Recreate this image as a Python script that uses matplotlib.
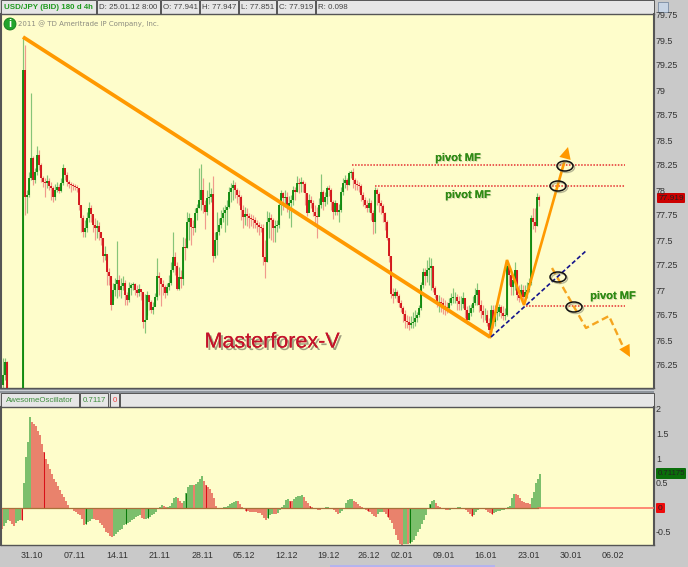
"""USD/JPY 4h price chart with Awesome Oscillator panel and hand-drawn pivot markup."""
import numpy as np
import matplotlib
matplotlib.use("Agg")
import matplotlib.pyplot as plt
import matplotlib.patheffects as pe
from matplotlib.patches import Ellipse, Rectangle, FancyBboxPatch, Circle

plt.rcParams["font.family"] = ["Liberation Sans", "DejaVu Sans"]

nan = float("nan")

# 4h bars, one slot every 2 chart columns starting at column 3
bar_close = [
    76.16, 76.29, 76.03, nan, nan, nan, nan, nan, nan, nan,
    79.21, 77.94, 77.96, 78.13, 78.33, 78.11, 78.19, 78.36, 78.26, 78.13,
    78.09, 78.08, 78.10, 78.05, 78.03, 77.94, 78.01, 78.04, 78.00, 78.08,
    78.23, 78.16, 78.09, 78.07, 78.06, 78.05, 78.04, 78.03, 77.86, 77.73,
    77.59, 77.63, 77.73, 77.83, 77.77, 77.66, 77.63, 77.65, 77.59, 77.53,
    77.35, 77.37, 77.19, 77.15, 76.86, 77.01, 77.07, 77.11, 77.01, 77.05,
    77.08, 76.96, 76.91, 77.03, 77.06, 77.07, 77.01, 76.98, 77.02, 76.99,
    76.69, 76.71, 76.96, 76.89, 76.81, 76.84, 76.94, 77.15, 77.13, 77.07,
    77.04, 76.98, 77.04, 77.08, 77.21, 77.34, 77.25, 77.02, 77.14, 77.12,
    77.44, 77.43, 77.69, 77.73, 77.64, 77.63, 77.78, 77.83, 77.91, 78.01,
    77.86, 77.79, 77.93, 77.94, 77.97, 77.35, 77.51, 77.59, 77.66, 77.73,
    77.78, 77.81, 77.84, 77.99, 78.03, 78.06, 78.01, 77.96, 77.94, 77.81,
    77.74, 77.77, 77.75, 77.73, 77.72, 77.71, 77.68, 77.66, 77.64, 77.63,
    77.34, 77.29, 77.69, 77.73, 77.71, 77.63, 77.65, 77.66, 77.86, 77.98,
    77.93, 77.94, 77.85, 77.88, 77.91, 78.01, 77.99, 78.08, 78.07, 78.09,
    78.07, 77.98, 77.78, 77.91, 77.88, 77.79, 77.75, 77.74, 77.86, 77.99,
    77.89, 77.94, 78.03, 78.01, 77.89, 77.79, 77.88, 77.79, 77.81, 77.99,
    78.08, 78.11, 78.06, 78.18, 78.19, 78.11, 78.07, 78.06, 78.05, 77.96,
    77.91, 77.86, 77.83, 77.88, 77.78, 77.69, 78.01, 77.97, 77.88, 77.85,
    77.78, 77.69, 77.53, 77.35, 76.97, 76.95, 76.99, 76.95, 76.88, 76.83,
    76.77, 76.70, 76.69, 76.66, 76.68, 76.69, 76.73, 76.76, 76.83, 77.06,
    77.19, 77.15, 77.21, 77.23, 77.25, 77.03, 76.96, 76.88, 76.89, 76.88,
    76.85, 76.84, 76.83, 76.88, 76.93, 76.94, 76.94, 76.90, 76.87, 76.87,
    76.93, 76.81, 76.71, 76.78, 76.83, 76.88, 76.96, 77.01, 76.86, 76.80,
    76.76, 76.76, 76.68, 76.61, 76.81, 76.69, 76.78, 76.79, 76.84, 76.78,
    76.75, 76.76, 77.25, 77.16, 77.04, 77.11, 77.21, 76.96, 76.93, 77.01,
    76.94, 76.99, 77.01, 77.08, 77.73, 77.69, 77.65, 77.94, 77.91,
]
bar_high = [
    76.33, 76.33, 76.30, nan, nan, nan, nan, nan, nan, nan,
    79.54, 79.46, 78.01, 78.19, 78.98, 78.35, 78.23, 78.45, 78.41, 78.28,
    78.15, 78.13, 78.16, 78.13, 78.09, 78.05, 78.07, 78.09, 78.07, 78.13,
    78.27, 78.21, 78.19, 78.11, 78.09, 78.08, 78.07, 78.06, 78.03, 77.86,
    77.76, 77.71, 77.79, 77.89, 77.86, 77.76, 77.73, 77.71, 77.69, 77.59,
    77.53, 77.45, 77.36, 77.23, 77.15, 77.08, 77.13, 77.50, 77.16, 77.13,
    77.15, 77.11, 76.99, 77.09, 77.08, 77.09, 77.08, 77.06, 77.07, 77.01,
    76.99, 76.97, 77.00, 76.96, 76.91, 76.89, 76.98, 77.33, 77.19, 77.13,
    77.11, 77.06, 77.08, 77.16, 77.29, 77.59, 77.39, 77.29, 77.24, 77.21,
    77.54, 77.53, 77.79, 77.78, 77.73, 77.71, 77.83, 77.87, 78.23, 78.27,
    78.13, 77.91, 78.01, 78.09, 78.03, 78.15, 77.59, 77.79, 77.73, 77.81,
    77.84, 77.86, 77.91, 78.04, 78.08, 78.11, 78.09, 78.03, 78.01, 77.96,
    77.86, 77.84, 77.83, 77.78, 77.77, 77.76, 77.74, 77.71, 77.69, 77.67,
    77.67, 77.51, 77.80, 77.79, 77.77, 77.73, 77.71, 77.71, 77.91, 78.01,
    77.99, 78.01, 77.99, 77.95, 77.96, 78.05, 78.04, 78.15, 78.13, 78.14,
    78.11, 78.09, 77.96, 77.97, 77.95, 77.91, 77.86, 77.84, 77.93, 78.17,
    78.01, 77.99, 78.05, 78.06, 78.03, 77.91, 77.91, 77.88, 77.87, 78.04,
    78.13, 78.16, 78.13, 78.20, 78.21, 78.23, 78.13, 78.11, 78.09, 78.07,
    77.99, 77.94, 77.91, 77.93, 77.91, 77.81, 78.04, 78.03, 77.99, 77.91,
    77.87, 77.79, 77.71, 77.53, 77.35, 77.03, 77.03, 77.01, 76.97, 76.91,
    76.85, 76.81, 76.76, 76.75, 76.75, 76.79, 76.81, 76.79, 76.86, 77.09,
    77.23, 77.23, 77.31, 77.34, 77.33, 77.25, 77.05, 76.96, 76.96, 76.94,
    76.93, 76.91, 76.89, 76.93, 76.98, 77.03, 76.99, 76.97, 76.95, 76.95,
    76.99, 76.93, 76.85, 76.86, 76.87, 76.95, 77.03, 77.08, 77.01, 76.91,
    76.86, 76.83, 76.81, 76.73, 76.86, 76.86, 76.86, 76.86, 76.87, 76.86,
    76.85, 76.83, 77.31, 77.26, 77.19, 77.16, 77.29, 77.21, 77.06, 77.07,
    77.06, 77.06, 77.09, 77.13, 77.76, 77.83, 77.83, 77.98, 77.96,
]
bar_low = [
    76.03, 76.11, 76.03, nan, nan, nan, nan, nan, nan, nan,
    76.03, 77.76, 77.78, 77.94, 78.11, 78.06, 78.08, 78.16, 78.21, 78.09,
    78.04, 77.94, 78.03, 78.01, 77.91, 77.89, 77.91, 77.99, 77.98, 77.99,
    78.06, 78.11, 78.05, 78.03, 77.99, 78.01, 78.01, 77.99, 77.81, 77.59,
    77.54, 77.54, 77.59, 77.69, 77.69, 77.59, 77.51, 77.53, 77.51, 77.46,
    77.29, 77.31, 77.06, 77.06, 76.81, 76.91, 76.95, 76.93, 76.95, 76.93,
    77.01, 76.86, 76.86, 76.89, 76.96, 77.01, 76.96, 76.94, 76.95, 76.91,
    76.63, 76.58, 76.76, 76.81, 76.78, 76.77, 76.85, 76.91, 76.96, 76.85,
    76.96, 76.93, 76.96, 77.01, 77.06, 77.19, 77.16, 77.01, 77.01, 77.03,
    77.06, 77.31, 77.43, 77.51, 77.46, 77.56, 77.59, 77.71, 77.83, 77.81,
    77.78, 77.62, 77.76, 77.87, 77.89, 77.29, 77.33, 77.36, 77.56, 77.63,
    77.69, 77.59, 77.66, 77.83, 77.89, 77.91, 77.93, 77.88, 77.86, 77.71,
    77.63, 77.66, 77.65, 77.63, 77.65, 77.63, 77.63, 77.59, 77.56, 77.59,
    77.26, 77.13, 77.29, 77.53, 77.51, 77.49, 77.49, 77.59, 77.63, 77.76,
    77.81, 77.84, 77.79, 77.73, 77.64, 77.86, 77.91, 77.99, 77.98, 77.99,
    77.99, 77.86, 77.75, 77.79, 77.83, 77.75, 77.65, 77.53, 77.75, 77.83,
    77.81, 77.85, 77.87, 77.95, 77.81, 77.72, 77.76, 77.76, 77.69, 77.79,
    77.96, 78.03, 78.01, 78.06, 78.13, 78.03, 78.01, 78.01, 77.99, 77.90,
    77.85, 77.83, 77.79, 77.79, 77.71, 77.57, 77.58, 77.86, 77.79, 77.77,
    77.69, 77.61, 77.51, 77.29, 76.93, 76.88, 76.93, 76.89, 76.84, 76.79,
    76.69, 76.63, 76.63, 76.61, 76.63, 76.63, 76.65, 76.69, 76.74, 76.81,
    77.03, 77.06, 77.09, 77.06, 77.01, 76.99, 76.93, 76.84, 76.79, 76.79,
    76.77, 76.76, 76.78, 76.79, 76.86, 76.88, 76.88, 76.81, 76.81, 76.81,
    76.83, 76.73, 76.67, 76.71, 76.75, 76.79, 76.86, 76.86, 76.79, 76.73,
    76.69, 76.71, 76.65, 76.56, 76.56, 76.63, 76.65, 76.71, 76.75, 76.73,
    76.71, 76.71, 76.75, 77.06, 76.96, 76.96, 77.01, 76.91, 76.89, 76.93,
    76.91, 76.93, 76.93, 76.99, 77.06, 77.62, 77.59, 77.65, 77.85,
]

# Awesome Oscillator, one value every 2 chart columns starting at column 2
ao_values = [
    -.42, -.36, -.31, -.25, -.27, -.32, -.37, -.30, -.26, -.24, -.25,
    .50, 1.04, 1.35, 1.85, 1.75, 1.71, 1.67, 1.57, 1.48, 1.30, 1.14, 1.00,
    .90, .80, .70, .60, .52, .44, .36, .29, .22, .14, .06, 0.0,
    -.03, -.06, -.08, -.12, -.15, -.22, -.35, -.33, -.29, -.26, -.23,
    -.23, -.24, -.25, -.30, -.34, -.40, -.48, -.52, -.57, -.60,
    -.58, -.53, -.49, -.45, -.42, -.35, -.33, -.30, -.28, -.25, -.22, -.19,
    -.17, -.15, -.20, -.23, -.22, -.20, -.18, -.15, -.12, -.08, -.03, .02,
    .07, .04, .01, .03, .05, .10, .20, .22, .21, .15, .10, .15, .30, .43,
    .46, .47, .46, .49, .53, .60, .65, .55, .46, .42, .39, .30, .20, .05,
    0.0, -.03, -.01, .01, .03, .05, .08, .10, .12, .14, .14, .08, .02,
    -.03, -.07, -.07, -.08, -.08, -.08, -.09, -.10, -.10, -.14, -.20, -.24,
    -.20, -.14, -.12, -.12, -.12, -.11, -.05, .01, .06, .17, .19, .15, .14,
    .18, .22, .24, .25, .27, .22, .15, .10, .05, .02, -.01, -.02, -.04, -.05,
    -.02, 0.0, .01, .02, 0.0, -.02, -.05, -.09, -.13, -.11, -.07, -.03,
    .10, .17, .18, .19, .15, .12, .08, .04, .01, -.01, -.05, -.07, -.08,
    -.12, -.16, -.18, -.13, -.09, -.08, -.08, -.12, -.18, -.24, -.30, -.42,
    -.56, -.65, -.73, -.75, -.74, -.73, -.73, -.72, -.70, -.66, -.58, -.48,
    -.42, -.33, -.25, -.14, -.03, .08, .15, .16, .10, .05, .02, -.01, -.03,
    -.05, -.05, -.04, -.03, -.02, -.01, .01, .02, -.01, -.03, -.05, -.09,
    -.13, -.17, -.14, -.08, -.05, -.03, -.01, 0.0, -.05, -.09, -.11, -.12,
    -.10, -.08, -.07, -.06, -.05, -.04, -.03, .01, .05, .20, .29, .28, .26,
    .20, .14, .12, .11, .10, .09, .20, .33, .50, .60, .70,
]
# slots of the AO drawn in the dark shade (session starts)
ao_dark_slots = [10, 21, 42, 62, 73, 92, 102, 122, 133, 144, 154, 183, 193, 204, 214, 235, 245]

date_labels = ["31.10", "07.11", "14.11", "21.11", "28.11", "05.12", "12.12", "19.12",
               "26.12", "02.01", "09.01", "16.01", "23.01", "30.01", "06.02"]
date_ticks = [32, 75, 117, 159.5, 202, 244, 287, 329, 369, 402, 444, 486, 529, 571, 613]
price_ticks = [79.75, 79.5, 79.25, 79, 78.75, 78.5, 78.25, 78, 77.75, 77.5, 77.25, 77, 76.75, 76.5, 76.25]
ao_ticks = [2, 1.5, 1, 0.5, -0.5]

# hand drawn markup, (column, price)
trend_x, trend_y = [23, 490], [79.54, 76.54]
zigzag_x, zigzag_y = [490, 507, 524, 564], [76.54, 77.31, 76.86, 78.28]
dashed_x, dashed_y = [552, 586, 609, 625], [77.23, 76.63, 76.75, 76.40]
support_x, support_y = [491, 587], [76.54, 77.41]
pivot_x0 = [352, 375, 526]
pivot_y = [78.26, 78.05, 76.85]
pivot_x1 = 625

BG = "#FEFDCB"
PANEL = "#C9C9C9"
CELL = "#E6E6E6"
ORANGE = "#FF9900"
W, H = 688, 567


def add_axes_px(fig, x0, y0, x1, y1):
    return fig.add_axes([x0 / W, 1 - y1 / H, (x1 - x0) / W, (y1 - y0) / H])


fig = plt.figure(figsize=(W / 100, H / 100), dpi=100, facecolor=PANEL)

# page chrome in pixel coordinates
page = fig.add_axes([0, 0, 1, 1], zorder=0)
page.set_xlim(0, W)
page.set_ylim(H, 0)
page.axis("off")
page.add_patch(Rectangle((0, 387), 654, 6, fc="#8F959C", ec="none"))
page.add_patch(Rectangle((0, 389.5), 654, 1.2, fc="#C9CDD2", ec="none"))


def header_cell(x0, x1, y0, y1, txt=None, color="#444444", weight="normal", size=5.7):
    page.add_patch(Rectangle((x0, y0), x1 - x0, y1 - y0, fc=CELL, ec="#555555", lw=0.7))
    if txt:
        page.text((x0 + x1) / 2, (y0 + y1) / 2 + 0.3, txt, ha="center", va="center",
                  fontsize=size, color=color, fontweight=weight)


header_cell(1, 96, 0, 14, "USD/JPY (BID) 180 d 4h", "#1F9A1F", "bold", 5.7)
header_cell(97, 160, 0, 14, "D: 25.01.12 8:00")
header_cell(161, 199, 0, 14, "O: 77.941")
header_cell(200, 238, 0, 14, "H: 77.947")
header_cell(239, 276, 0, 14, "L: 77.851")
header_cell(277, 315, 0, 14, "C: 77.919")
header_cell(316, 654, 0, 14)
page.text(318, 7.3, "R: 0.098", ha="left", va="center", fontsize=5.7, color="#444444")
header_cell(1, 79, 393, 407, "AwesomeOscillator", "#3E8E3E", size=5.7)
header_cell(80, 108, 393, 407, "0.7117", "#3E8E3E", size=5.7)
header_cell(110, 119, 393, 407, "0", "#F04040")
header_cell(120, 654, 393, 407)
page.add_patch(Rectangle((658, 2), 10, 10, fc="#C7D4E4", ec="#7A8CA3", lw=0.6))
page.add_patch(Rectangle((330, 564.5), 165, 2.5, fc="#B4B4EE", ec="none"))

# price panel
ax = add_axes_px(fig, 1, 14, 654, 388)
ax.set_zorder(1)
ax.set_facecolor(BG)
ax.set_xlim(1, 654)
ax.set_ylim(76.03, 79.77)
ax.set_xticks([])
ax.set_yticks([])

bar_x = 3 + 2 * np.arange(len(bar_close))
close = np.array(bar_close)
open_ = np.r_[close[0] - 0.1, close[:-1]]
open_[10] = 76.03
up = close >= open_
for mask, wick in [(up, "#86C478"), (~up, "#F09A8C")]:
    ax.vlines(bar_x[mask], np.array(bar_low)[mask], np.array(bar_high)[mask],
              color=wick, lw=0.85, zorder=2)
for mask, body in [(up, "#078507"), (~up, "#D00A12")]:
    ax.vlines(bar_x[mask], np.minimum(open_, close)[mask], np.maximum(open_, close)[mask],
              color=body, lw=1.3, zorder=3)

for x0, y in zip(pivot_x0, pivot_y):
    ax.plot([x0, pivot_x1], [y, y], color="#E53030", lw=1.1, ls=(0, (1, 1)), zorder=4)

ax.plot(trend_x, trend_y, color=ORANGE, lw=2.7, solid_capstyle="butt", zorder=5)
ax.plot(zigzag_x, zigzag_y, color=ORANGE, lw=1.9, solid_joinstyle="miter", zorder=5)
ax.plot(dashed_x, dashed_y, color="#F5A51F", lw=1.7, ls=(0, (3, 1.6)), zorder=5)
ax.plot(support_x, support_y, color="#14148C", lw=1.2, ls=(0, (2.6, 1.5)), zorder=5)
ax.annotate("", xy=(568, 78.44), xytext=(563, 78.25), zorder=6,
            arrowprops=dict(arrowstyle="-|>,head_width=0.42,head_length=0.85", color=ORANGE,
                            lw=0, shrinkA=0, shrinkB=0))
ax.annotate("", xy=(630, 76.34), xytext=(623, 76.47), zorder=6,
            arrowprops=dict(arrowstyle="-|>,head_width=0.42,head_length=0.85", color=ORANGE,
                            lw=0, shrinkA=0, shrinkB=0))

# oscillator panel
ao = add_axes_px(fig, 1, 407, 654, 545)
ao.set_zorder(1)
ao.set_facecolor(BG)
ao.set_xlim(1, 654)
ao.set_ylim(-0.755, 2.06)
ao.set_xticks([])
ao.set_yticks([])
values = np.array(ao_values)
ao_x = 2 + 2 * np.arange(len(values))
rising = np.r_[False, np.diff(values) > 0]
ao.bar(ao_x, values, width=2.0, color=np.where(rising, "#7CBF6C", "#E9826C").tolist(),
       zorder=2, linewidth=0)
for slot in ao_dark_slots:
    ao.vlines(ao_x[slot], 0, values[slot], color="#0A7A0A" if rising[slot] else "#D91018",
              lw=0.75, zorder=2.5)
ao.plot([538, 654], [0, 0], color="#FF6A5C", lw=1.1, zorder=3)
ao.plot([2, 538], [0, 0], color="#A8703A", lw=0.9, zorder=3)

for a in (ax, ao):
    for side, s in a.spines.items():
        s.set_color("#555555")
        s.set_linewidth(1.5 if side in ("right", "left") else 1.0)

# top layer: ellipses, labels, value tags
top = fig.add_axes([0, 0, 1, 1], zorder=5)
top.set_xlim(0, W)
top.set_ylim(H, 0)
top.axis("off")
top.patch.set_alpha(0)

for ex, ey in [(565, 166), (558, 186), (558, 277), (574, 307)]:
    top.add_patch(Ellipse((ex + 1.5, ey + 1.5), 16, 10, fc="none", ec="#8A8A70", lw=1.0, alpha=0.6))
    top.add_patch(Ellipse((ex, ey), 16, 10, fc="none", ec="#111111", lw=1.1))

for lx, ly in [(458, 158), (468, 195), (613, 296)]:
    t = top.text(lx, ly, "pivot MF", ha="center", va="center", fontsize=8, fontweight="bold", color="#2F8A14")
    t.set_path_effects([pe.withSimplePatchShadow(offset=(0.7, -0.7), shadow_rgbFace="#B0B090", alpha=0.45),
                        pe.Normal()])

t = top.text(272, 342, "Masterforex-V", ha="center", va="center", fontsize=15.5, color="#C4122A")
t.set_path_effects([pe.withSimplePatchShadow(offset=(1.6, -1.8), shadow_rgbFace="#6E6E58", alpha=0.65), pe.Normal()])

top.add_patch(Circle((10, 24), 6, fc="#22A52B", ec="#127A1A", lw=0.6))
top.text(10, 24.3, "i", ha="center", va="center", fontsize=8, fontweight="bold", color="white")
top.text(18, 24, "2011 @ TD Ameritrade IP Company, Inc.", ha="left", va="center",
         fontsize=5.0, color="#8C8C80", family=["DejaVu Sans"])

for val in price_ticks:
    top.text(656, 191 + (78 - val) * 100, f"{val:g}", ha="left", va="center", fontsize=6.4, color="#333333")
for val in ao_ticks:
    top.text(656, 508 - val * 49, f"{val:g}", ha="left", va="center", fontsize=6.4, color="#333333")
for lbl, tx in zip(date_labels, date_ticks):
    top.text(tx, 556, lbl, ha="center", va="center", fontsize=6.4, color="#333333")

for x0, x1, y0, y1, fc, txt, fs in [(657, 685, 193, 203, "#CC0000", "77.919", 6.0),
                                    (656, 686, 468, 479, "#0A6E0A", "0.71175", 5.6),
                                    (656, 665, 503, 513, "#EE0B0B", "0", 6.0)]:
    top.add_patch(FancyBboxPatch((x0 + 1, y0 + 1), x1 - x0 - 2, y1 - y0 - 2,
                                 boxstyle="round,pad=1", fc=fc, ec="none"))
    top.text((x0 + x1) / 2, (y0 + y1) / 2 + 0.3, txt, ha="center", va="center", fontsize=fs, color="#222222")

fig.savefig("out.png", dpi=100, facecolor=PANEL)
plt.close(fig)
